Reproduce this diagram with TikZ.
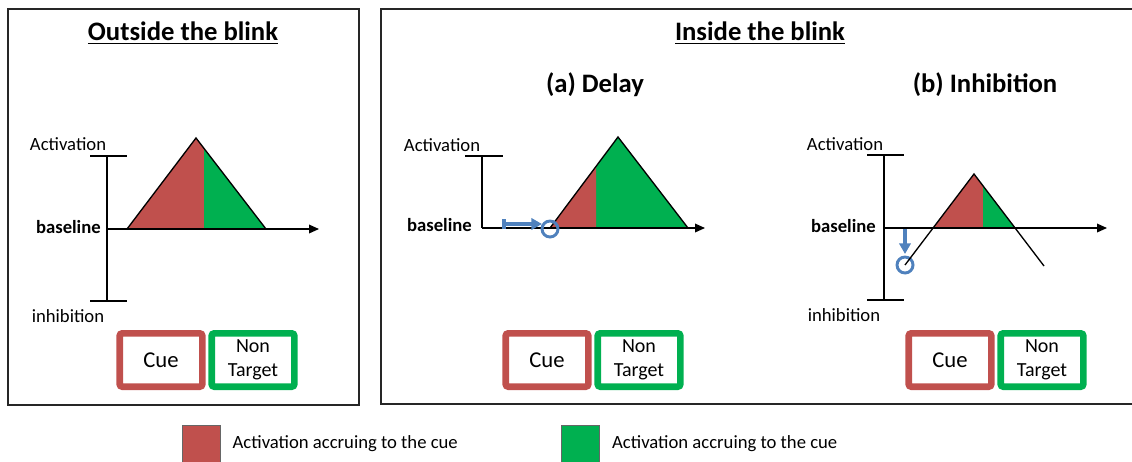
\documentclass[tikz,border=0pt]{standalone}
\usepackage{fontspec}
\setmainfont{Carlito}
\usepackage{tikz}
\usetikzlibrary{positioning,arrows.meta,calc}

\definecolor{cuered}{HTML}{C0504D}
\definecolor{ntgreen}{HTML}{00B050}
\definecolor{shiftblue}{HTML}{4F81BD}

\begin{document}
\begin{tikzpicture}[x=0.75pt,y=-0.75pt,
  frame/.style={draw=black!85,line width=1.3pt},
  axis/.style={line width=1pt},
  axisarrow/.style={axis,-{Triangle[length=7.5pt,width=6.5pt]}},
  lbl/.style={font=\fontsize{14}{16}\selectfont,inner sep=0pt},
  base/.style={font=\bfseries\fontsize{14}{16}\selectfont,inner sep=0pt,anchor=east},
  ttl/.style={font=\bfseries\fontsize{20}{24}\selectfont,inner sep=0pt},
  cuebox/.style={draw=cuered,line width=5pt,rounded corners=2pt,
    minimum width=62pt,minimum height=40pt,font=\fontsize{17}{19}\selectfont},
  ntbox/.style={draw=ntgreen,line width=5pt,rounded corners=2pt,
    minimum width=62pt,minimum height=40pt,inner sep=0pt,align=center,
    font=\fontsize{15}{18}\selectfont},
  shiftarrow/.style={draw=shiftblue,line width=3pt},
  ring/.style={draw=shiftblue,line width=2.2pt,circle,minimum size=12pt,inner sep=0pt},
  key/.style={draw=black!60,line width=0.6pt,minimum width=28.5pt,minimum height=28.5pt},
  ]

  \useasboundingbox (0,0) rectangle (1132,461);
  \clip (0,0) rectangle (1132,461);

  % panel frames
  \draw[frame] (8,9) rectangle (359,405);
  \draw[frame] (381,9) rectangle (1140,404);

  \node[ttl] (t1) at (183,33) {\underline{Outside the blink}};
  \node[ttl] (t2) at (760,33) {\underline{Inside the blink}};
  \node[ttl] (t3) at (595,85) {(a) Delay};
  \node[ttl] (t4) at (985,85) {(b) Inhibition};

  %% outside the blink
  \coordinate (top1) at (107,156);
  \coordinate (bot1) at (107,301);
  \coordinate (o1) at (107,229);
  \coordinate (end1) at (319,229);
  \coordinate (l1) at (127,229);
  \coordinate (a1) at (196,138);
  \coordinate (r1) at (266,229);

  \fill[cuered] (l1) -- (a1) -- (r1) -- cycle;
  \begin{scope}
    \clip (204,100) rectangle (300,240);
    \fill[ntgreen] (l1) -- (a1) -- (r1) -- cycle;
  \end{scope}
  \draw[axis] (l1) -- (a1) -- (r1);

  \draw[axis] (top1) -- (bot1);
  \draw[axis] ($(top1)+(-17,0)$) -- ($(top1)+(20,0)$);
  \draw[axis] ($(bot1)+(-17,0)$) -- ($(bot1)+(20,0)$);
  \draw[axisarrow] (o1) -- (end1);

  \node[lbl] (act1) at (68,144) {Activation};
  \node[base] (bl1) at (101,227) {baseline};
  \node[lbl] (inh1) at (68,316) {inhibition};

  \node[cuebox] (cue1) at (161,360) {Cue};
  \node[ntbox] (nt1) [right=2pt of cue1] {Non\\Target};

  %% (a) delay
  \coordinate (top2) at (482,156);
  \coordinate (o2) at (482,228);
  \coordinate (end2) at (705,228);
  \coordinate (l2) at (550,228);
  \coordinate (a2) at (618,137);
  \coordinate (r2) at (688,228);

  \fill[ntgreen] (l2) -- (a2) -- (r2) -- cycle;
  \begin{scope}
    \clip (540,100) rectangle (596,240);
    \fill[cuered] (l2) -- (a2) -- (r2) -- cycle;
  \end{scope}
  \draw[axis] (l2) -- (a2) -- (r2);

  \draw[axis] (top2) -- (o2);
  \draw[axis] ($(top2)+(-17,0)$) -- ($(top2)+(21,0)$);
  \draw[axisarrow] (o2) -- (end2);

  \node[ring] (ring2) at (550,229) {};
  \coordinate (sh2a) at (502,224);
  \coordinate (sh2b) at (542,224);
  \draw[shiftarrow,{Bar[width=7.5pt]}-{Triangle[length=8pt,width=8.5pt]}] (sh2a) -- (sh2b);

  \node[lbl] (act2) at (442,145) {Activation};
  \node[base] (bl2) at (472,225) {baseline};

  \node[cuebox] (cue2) at (547,360) {Cue};
  \node[ntbox] (nt2) [right=2pt of cue2] {Non\\Target};

  %% (b) inhibition
  \coordinate (top3) at (884,155);
  \coordinate (bot3) at (884,300);
  \coordinate (o3) at (884,228);
  \coordinate (end3) at (1107,228);
  \coordinate (c3) at (905,265);
  \coordinate (a3) at (974,174);
  \coordinate (e3) at (1044,266);

  \begin{scope}
    \clip (900,100) rectangle (1060,228);
    \fill[cuered] (c3) -- (a3) -- (e3) -- cycle;
    \clip (983,100) rectangle (1060,228);
    \fill[ntgreen] (c3) -- (a3) -- (e3) -- cycle;
  \end{scope}

  \draw[axis] (top3) -- (bot3);
  \draw[axis] ($(top3)+(-17,0)$) -- ($(top3)+(20,0)$);
  \draw[axis] ($(bot3)+(-17,0)$) -- ($(bot3)+(20,0)$);
  \draw[axisarrow] (o3) -- (end3);

  \node[ring] (ring3) at (c3) {};
  \draw[axis] (c3) -- (a3) -- (e3);
  \coordinate (sh3a) at (905,229);
  \coordinate (sh3b) at (905,254);
  \draw[shiftarrow,-{Triangle[length=8pt,width=8.5pt]}] (sh3a) -- (sh3b);

  \node[lbl] (act3) at (845,144) {Activation};
  \node[base] (bl3) at (876,226) {baseline};
  \node[lbl] (inh3) at (844,315) {inhibition};

  \node[cuebox] (cue3) at (950,360) {Cue};
  \node[ntbox] (nt3) [right=2pt of cue3] {Non\\Target};

  %% legend
  \node[key,fill=cuered] (sq1) at (201,444) {};
  \node[lbl] (k1) [right=9pt of sq1] {Activation accruing to the cue};
  \node[key,fill=ntgreen] (sq2) at (580.5,444) {};
  \node[lbl] (k2) [right=9pt of sq2] {Activation accruing to the cue};

\end{tikzpicture}
\end{document}
